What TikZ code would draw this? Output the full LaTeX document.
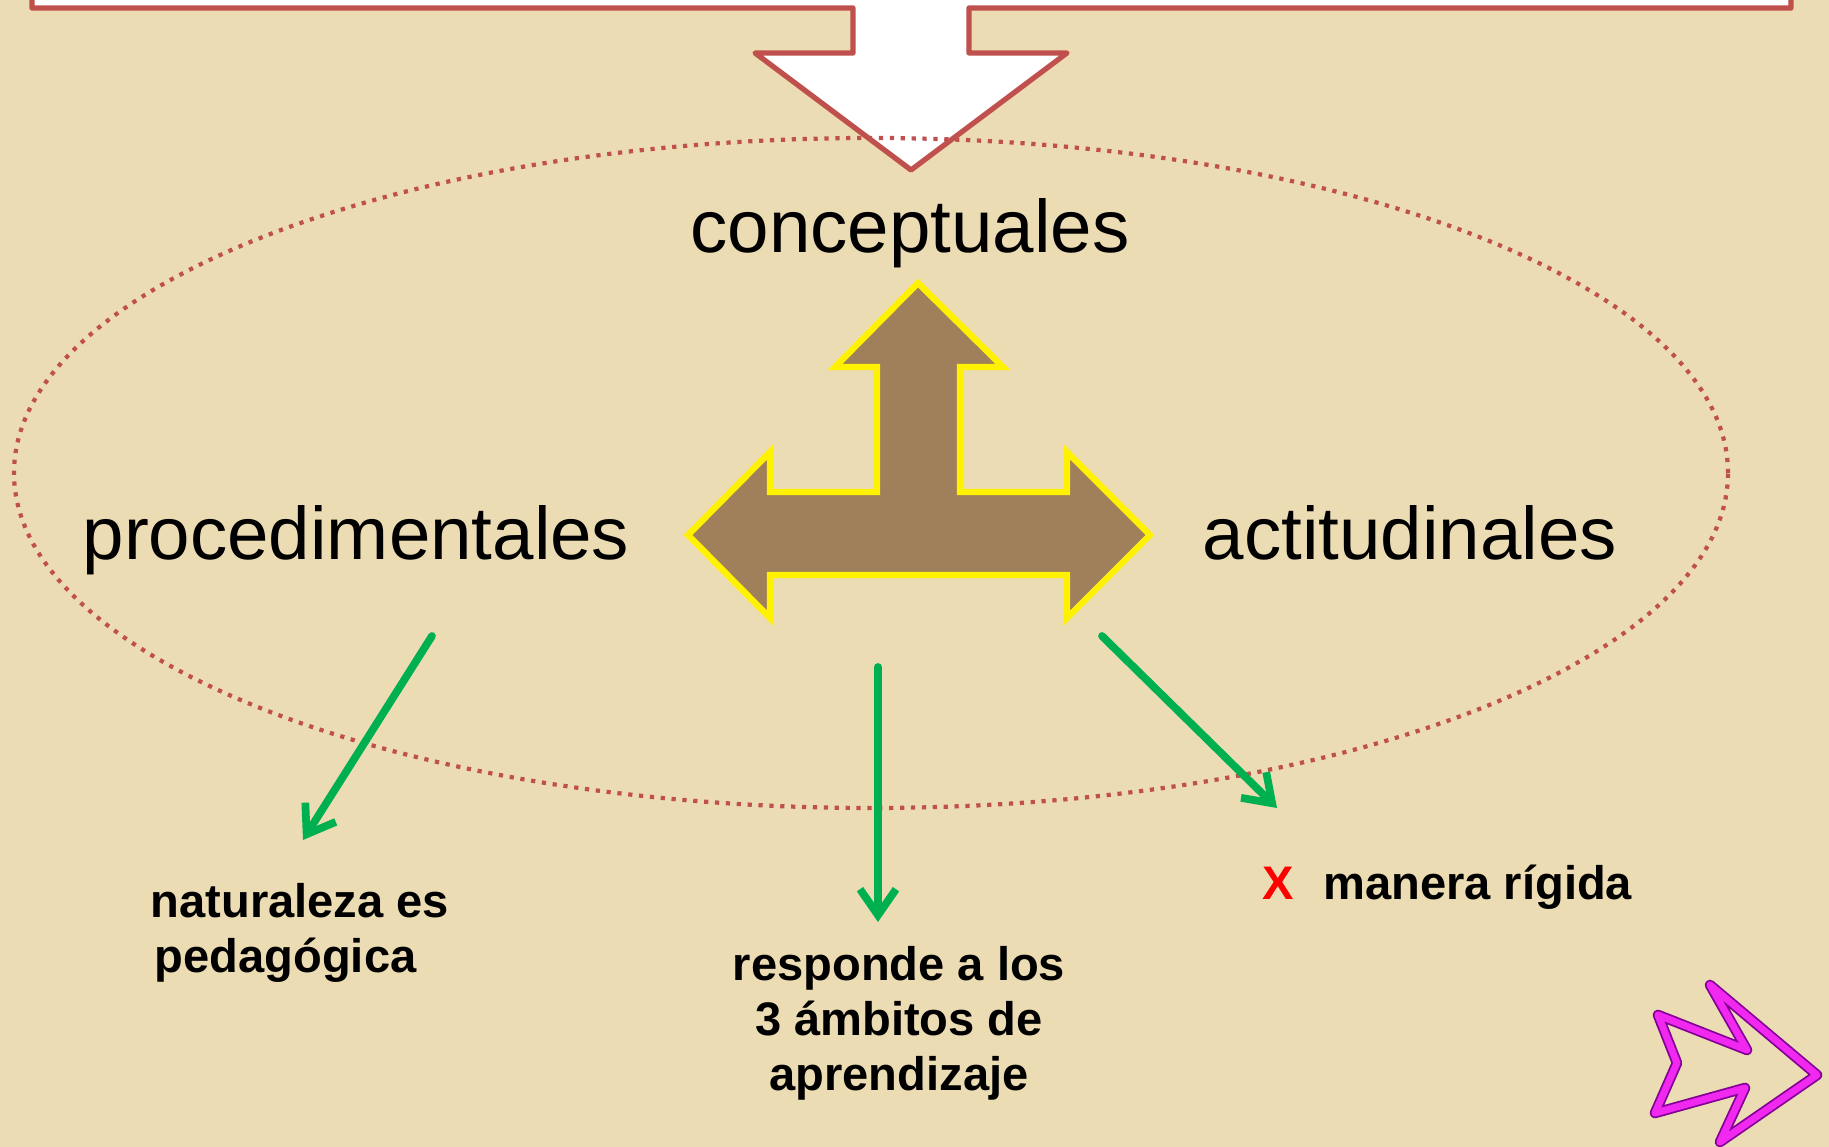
\documentclass[tikz,border=0pt]{standalone}
\usepackage{fontspec}
\setmainfont{Liberation Sans}
\usetikzlibrary{arrows.meta}

\definecolor{parchment}{RGB}{236,220,180}
\definecolor{calloutred}{RGB}{192,80,77}
\definecolor{paperbrown}{RGB}{160,128,90}
\definecolor{arrowgreen}{RGB}{0,176,80}
\definecolor{nextpink}{RGB}{240,40,240}
\definecolor{nextrim}{RGB}{130,0,150}

\tikzset{
  bigword/.style={inner sep=0pt, font=\fontsize{21.2}{25}\selectfont},
  smallword/.style={inner sep=0pt, font=\fontsize{13.4}{15.6}\selectfont\bfseries},
  greenarrow/.style={draw=arrowgreen, line width=2.2pt, line cap=round, line join=round,
    -{Straight Barb[length=2.6mm,width=3.6mm]}},
}

\begin{document}
\begin{tikzpicture}

  \useasboundingbox [fill=parchment] (0,0) rectangle (18.29,-11.47);

  % callout from the box above
  \draw [calloutred, line width=1.5pt, fill=white, line join=round]
    (0.32,0.5) -- (0.32,-0.08) -- (8.53,-0.08) -- (8.53,-0.53) -- (7.55,-0.53)
    -- (9.11,-1.70) -- (10.67,-0.53) -- (9.69,-0.53) -- (9.69,-0.08)
    -- (17.91,-0.08) -- (17.91,0.5) -- cycle;

  \draw [calloutred, line width=1.2pt, dash pattern=on 1.2pt off 1.9pt]
    (8.71,-4.73) ellipse [x radius=8.57, y radius=3.35];

  % three-way arrow
  \draw [yellow, line width=1.8pt, fill=paperbrown, line join=miter]
    (9.18,-2.83) -- (10.03,-3.67) -- (9.60,-3.67) -- (9.60,-4.92) -- (10.67,-4.92)
    -- (10.67,-4.52) -- (11.50,-5.35) -- (10.67,-6.18) -- (10.67,-5.75)
    -- (7.70,-5.75) -- (7.70,-6.18) -- (6.88,-5.35) -- (7.70,-4.52)
    -- (7.70,-4.92) -- (8.77,-4.92) -- (8.77,-3.67) -- (8.35,-3.67) -- cycle;

  \node [bigword, anchor=base] (concept) at (9.10,-2.53) {conceptuales};
  \node [bigword, anchor=base] (proced) at (3.56,-5.60) {procedimentales};
  \node [bigword, anchor=base] (actitud) at (14.10,-5.60) {actitudinales};

  \node [smallword, anchor=north west, align=left] (natural) at (1.50,-8.83)
    {naturaleza es\\\hspace{0.4mm}pedagógica};
  \node [smallword, anchor=north, align=center] (responde) at (8.99,-9.46)
    {responde a los\\3 ámbitos de\\aprendizaje};
  \node [smallword, anchor=base west] (rigida) at (12.62,-9.00)
    {\textcolor{red}{X}\hspace{0.62em}manera rígida};

  \coordinate (procfoot) at (4.32,-6.36);
  \coordinate (naturtop) at (3.03,-8.40);
  \coordinate (midfoot) at (8.78,-6.67);
  \coordinate (respondetop) at (8.78,-9.22);
  \coordinate (actfoot) at (11.02,-6.36);
  \coordinate (rigidatop) at (12.77,-8.08);

  \draw [greenarrow] (procfoot) -- (naturtop);
  \draw [greenarrow] (midfoot) -- (respondetop);
  \draw [greenarrow] (actfoot) -- (rigidatop);

  % next-slide arrow
  \foreach \w/\c in {3.0pt/nextrim, 2.0pt/nextpink}
    \draw [line width=\w, \c, line join=round]
      (17.10,-9.85) -- (18.17,-10.75) -- (17.20,-11.42) -- (17.45,-10.88)
      -- (16.55,-11.13) -- (16.77,-10.63) -- (16.58,-10.15) -- (17.47,-10.50) -- cycle;

\end{tikzpicture}
\end{document}
